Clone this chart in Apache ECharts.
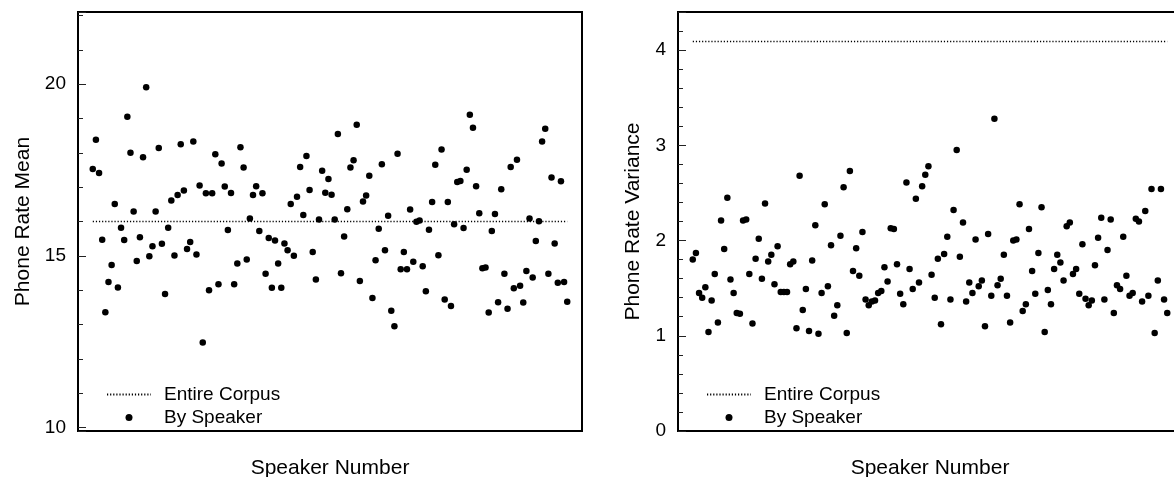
<!DOCTYPE html>
<html><head><meta charset="utf-8">
<script src="https://cdn.jsdelivr.net/npm/echarts@6/dist/echarts.min.js"></script>
<style>html,body{margin:0;padding:0;background:#fff}#c{width:1174px;height:477px}</style>
</head><body><div id="c"></div>
<script>
const speakers = Array.from({length: 152}, (_, k) => k + 1);
const meanValues = [17.53,18.38,17.41,15.47,13.36,14.24,14.73,16.51,14.08,15.82,
15.46,19.05,18.00,16.29,14.85,15.54,17.87,19.91,14.99,15.28,
16.29,18.14,15.35,13.89,15.82,16.61,15.01,16.77,18.25,16.90,
15.20,15.40,18.33,15.04,17.05,12.48,16.82,14.00,16.82,17.96,
14.17,17.69,17.02,15.75,16.83,14.17,14.78,18.16,17.57,14.89,
16.09,16.77,17.03,15.72,16.82,14.48,15.52,14.07,15.45,14.78,
14.07,15.36,15.16,16.51,15.00,16.72,17.59,16.19,17.91,16.92,
15.11,14.31,16.06,17.48,16.84,17.24,16.78,16.06,18.55,14.49,
15.56,16.36,17.57,17.78,18.82,14.27,16.58,16.76,17.33,13.77,
14.87,15.79,17.67,15.16,16.17,13.40,12.95,17.97,14.61,15.11,
14.61,16.35,14.83,15.99,16.03,14.70,13.97,15.76,16.57,17.65,
15.02,18.10,13.73,16.57,13.54,15.92,17.15,17.18,15.81,17.51,
19.11,18.73,17.03,16.24,14.64,14.66,13.35,15.72,16.22,13.65,
16.94,14.48,13.46,17.59,14.06,17.80,14.13,13.64,14.56,16.09,
14.37,15.43,16.01,18.33,18.70,14.48,17.28,15.36,14.22,17.17,
14.24,13.66];
const varValues = [1.80,1.87,1.45,1.40,1.51,1.04,1.37,1.65,1.14,2.21,
1.91,2.45,1.59,1.45,1.24,1.23,2.21,2.22,1.65,1.13,
1.81,2.02,1.60,2.39,1.78,1.85,1.54,1.94,1.46,1.46,
1.46,1.75,1.78,1.08,2.68,1.27,1.49,1.05,1.79,2.16,
1.02,1.45,2.38,1.52,1.95,1.21,1.32,2.05,2.56,1.03,
2.73,1.68,1.92,1.63,2.09,1.38,1.32,1.36,1.37,1.45,
1.47,1.72,1.57,2.13,2.12,1.75,1.44,1.33,2.61,1.70,
1.49,2.44,1.56,2.57,2.69,2.78,1.64,1.40,1.81,1.12,
1.86,2.04,1.38,2.32,2.95,1.83,2.19,1.36,1.56,1.45,
2.01,1.52,1.58,1.10,2.07,1.42,3.28,1.53,1.60,1.85,
1.42,1.14,2.00,2.01,2.38,1.26,1.33,2.12,1.68,1.44,
1.87,2.35,1.04,1.48,1.33,1.70,1.85,1.77,1.58,2.15,
2.19,1.65,1.70,1.44,1.96,1.39,1.32,1.37,1.74,2.03,
2.24,1.38,1.90,2.22,1.24,1.53,1.49,2.04,1.63,1.42,
1.45,2.23,2.20,1.36,2.31,1.42,2.54,1.03,1.58,2.54,
1.38,1.24];
const corpusMean = 16.0;
const corpusVariance = 4.09;
const legendNames = ['Entire Corpus', 'By Speaker'];
const yTitles = ['Phone Rate Mean', 'Phone Rate Variance'];
const xTitle = 'Speaker Number';

const FONT = '"Liberation Sans", Arial, Helvetica, sans-serif';
function pairs(vals) { return speakers.map((s, k) => [s, vals[k]]); }
function corpusLine(v) { return [[speakers[0], v], [speakers[speakers.length - 1], v]]; }

function xAxis(gi) {
  return {
    gridIndex: gi, type: 'value', min: -3.7, max: 156.7,
    name: xTitle, nameLocation: 'middle', nameGap: 27,
    nameTextStyle: {fontFamily: FONT, fontSize: 21, color: '#000'},
    axisLine: {show: false, onZero: false}, axisTick: {show: false}, axisLabel: {show: false}, splitLine: {show: false}
  };
}
function yAxis(gi, min, max, split, name, gap, showMin) {
  return {
    gridIndex: gi, type: 'value', min: min, max: max, splitNumber: split,
    name: name, nameLocation: 'middle', nameGap: gap,
    nameTextStyle: {fontFamily: FONT, fontSize: 21, color: '#000'},
    axisLine: {show: false, onZero: false},
    axisTick: {show: true, inside: true, length: 8, lineStyle: {color: '#222', width: 1}},
    minorTick: {show: true, splitNumber: 5, length: 5, lineStyle: {color: '#222', width: 1}},
    axisLabel: {showMinLabel: showMin, showMaxLabel: false, fontFamily: FONT, fontSize: 19, color: '#000', margin: 12},
    splitLine: {show: false}, minorSplitLine: {show: false}
  };
}
function legend(left) {
  return {
    orient: 'vertical', left: left, top: 385, padding: 0, itemWidth: 44, itemHeight: 7, itemGap: 4,
    selectedMode: false,
    data: [{name: legendNames[0], itemStyle: {opacity: 0}}, legendNames[1]],
    textStyle: {fontFamily: FONT, fontSize: 19, color: '#000', padding: [0, 0, 0, 8]}
  };
}
function panelSeries(gi, vals, corpus) {
  return [
    {name: legendNames[0], type: 'line', xAxisIndex: gi, yAxisIndex: gi, data: corpusLine(corpus),
     symbol: 'none', silent: true, lineStyle: {color: '#000', width: 1.3, type: [1.2, 1.9]},
     itemStyle: {color: 'rgba(0,0,0,0)'}},
    {name: legendNames[1], type: 'scatter', xAxisIndex: gi, yAxisIndex: gi, data: pairs(vals),
     symbol: 'circle', symbolSize: 6.5, itemStyle: {color: '#000', opacity: 1}}
  ];
}

const chart = echarts.init(document.getElementById('c'), null, {renderer: 'canvas'});
chart.setOption({
  animation: false,
  backgroundColor: '#fff',
  grid: [
    {left: 78, top: 12, width: 504, height: 419, outerBoundsMode: 'none', containLabel: false, show: true, borderColor: '#000', borderWidth: 2, backgroundColor: 'transparent'},
    {left: 678, top: 12, width: 504, height: 419, outerBoundsMode: 'none', containLabel: false, show: true, borderColor: '#000', borderWidth: 2, backgroundColor: 'transparent'}
  ],
  xAxis: [xAxis(0), xAxis(1)],
  yAxis: [
    yAxis(0, 9.9, 22.1, 3, yTitles[0], 44, false),
    yAxis(1, 0, 4.4, 4, yTitles[1], 34, true)
  ],
  legend: [legend(106), legend(706)],
  series: panelSeries(0, meanValues, corpusMean).concat(panelSeries(1, varValues, corpusVariance))
});
</script></body></html>
